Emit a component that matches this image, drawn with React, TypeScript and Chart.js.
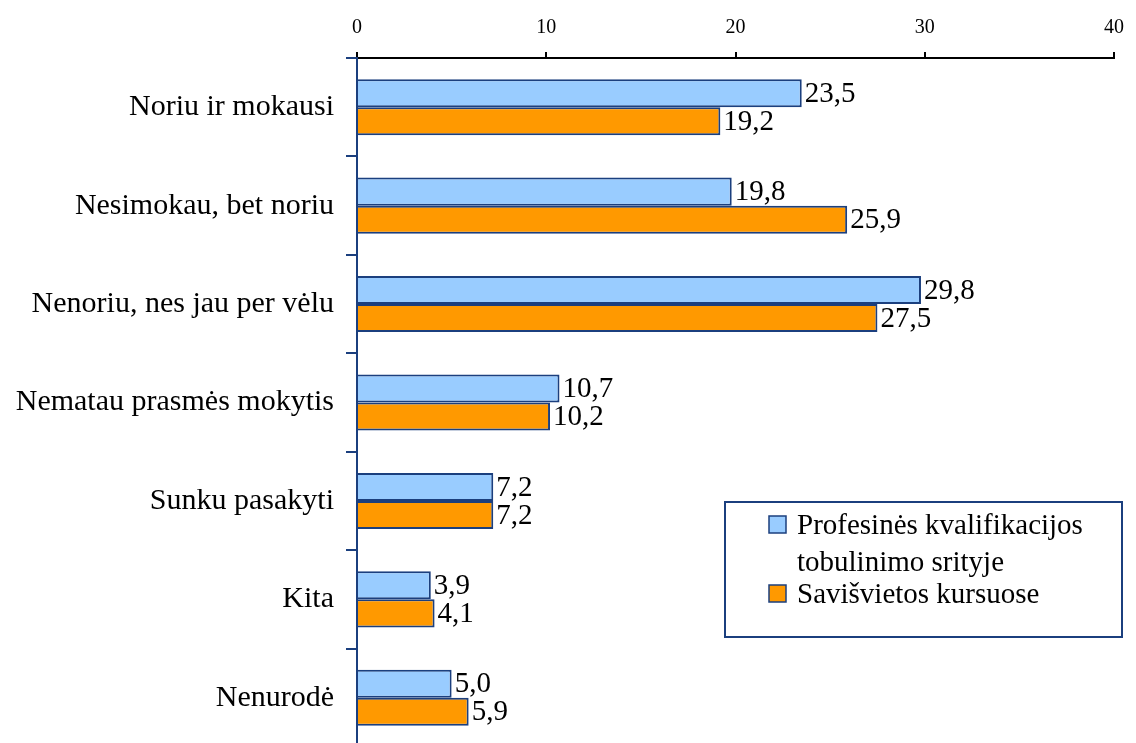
import React, { useEffect, useRef } from "react";
import { Chart, registerables } from "chart.js";

Chart.register(...registerables);

const categories = [
  "Noriu ir mokausi",
  "Nesimokau, bet noriu",
  "Nenoriu, nes jau per vėlu",
  "Nematau prasmės mokytis",
  "Sunku pasakyti",
  "Kita",
  "Nenurodė",
];
const seriesNames = ["Profesinės kvalifikacijos tobulinimo srityje", "Savišvietos kursuose"];
const legendLines = [["Profesinės kvalifikacijos", "tobulinimo srityje"], ["Savišvietos kursuose"]];
const profesines = [23.5, 19.8, 29.8, 10.7, 7.2, 3.9, 5.0];
const savisvietos = [19.2, 25.9, 27.5, 10.2, 7.2, 4.1, 5.9];
const xTicks = [0, 10, 20, 30, 40];

const NAVY = "#1B3F7E";
const BLUE = "#99CCFF";
const ORANGE = "#FF9900";
const FONT = "'Liberation Serif', 'Times New Roman', serif";

const dataLabelPlugin = {
  id: "dataLabels",
  afterDatasetsDraw(chart: any) {
    const ctx = chart.ctx;
    ctx.save();
    ctx.font = `29px ${FONT}`;
    ctx.fillStyle = "#000";
    ctx.textAlign = "left";
    ctx.textBaseline = "middle";
    chart.data.datasets.forEach((ds: any, di: number) => {
      const meta = chart.getDatasetMeta(di);
      meta.data.forEach((bar: any, i: number) => {
        const v = ds.data[i] as number;
        const txt = v.toFixed(1).replace(".", ",");
        ctx.fillText(txt, bar.x + 3, bar.y + 1);
      });
    });
    ctx.restore();
  },
};

const legendPlugin = {
  id: "boxLegend",
  afterDraw(chart: any) {
    const ctx = chart.ctx;
    ctx.save();
    ctx.lineWidth = 2;
    ctx.strokeStyle = NAVY;
    ctx.fillStyle = "#fff";
    ctx.fillRect(725, 502, 397, 135);
    ctx.strokeRect(725, 502, 397, 135);
    const colors = [BLUE, ORANGE];
    const rows = [525, 594];
    ctx.font = `29px ${FONT}`;
    ctx.textAlign = "left";
    ctx.textBaseline = "middle";
    legendLines.forEach((lines, i) => {
      const y = rows[i];
      ctx.fillStyle = colors[i];
      ctx.fillRect(769, y - 9, 17, 17);
      ctx.lineWidth = 1.5;
      ctx.strokeStyle = NAVY;
      ctx.strokeRect(769, y - 9, 17, 17);
      ctx.fillStyle = "#000";
      lines.forEach((t, j) => ctx.fillText(t, 797, y + 1 + j * 37));
    });
    ctx.restore();
  },
};

export default function App() {
  const ref = useRef<HTMLCanvasElement>(null);
  useEffect(() => {
    if (!ref.current) return;
    const chart = new Chart(ref.current, {
      type: "bar",
      data: {
        labels: categories,
        datasets: [
          {
            label: seriesNames[0],
            data: profesines,
            backgroundColor: BLUE,
            borderColor: NAVY,
            borderWidth: 2,
            borderSkipped: "start",
            categoryPercentage: 0.57,
            barPercentage: 1,
          },
          {
            label: seriesNames[1],
            data: savisvietos,
            backgroundColor: ORANGE,
            borderColor: NAVY,
            borderWidth: 2,
            borderSkipped: "start",
            categoryPercentage: 0.57,
            barPercentage: 1,
          },
        ],
      },
      options: {
        indexAxis: "y",
        animation: false,
        responsive: false,
        maintainAspectRatio: false,
        layout: { padding: { left: 0, right: 19, top: 0, bottom: 0 } },
        plugins: { legend: { display: false }, tooltip: { enabled: false } },
        scales: {
          x: {
            position: "top",
            min: 0,
            max: 40,
            afterBuildTicks: (s: any) => {
              s.ticks = xTicks.map((v) => ({ value: v }));
            },
            afterFit: (s: any) => {
              s.height = 58;
            },
            ticks: {
              color: "#000",
              font: { family: FONT, size: 20 },
              padding: 12,
              maxRotation: 0,
            },
            grid: {
              drawOnChartArea: false,
              drawTicks: true,
              tickLength: 6,
              color: "#000",
              lineWidth: 2,
            },
            border: { display: true, color: "#000", width: 2 },
          },
          y: {
            afterFit: (s: any) => {
              s.width = 357;
            },
            ticks: {
              color: "#000",
              font: { family: FONT, size: 30 },
              padding: 12,
            },
            grid: {
              offset: true,
              drawOnChartArea: false,
              drawTicks: true,
              tickLength: 11,
              color: NAVY,
              lineWidth: 2,
            },
            border: { display: true, color: NAVY, width: 2 },
          },
        },
      },
      plugins: [dataLabelPlugin, legendPlugin],
    } as any);
    return () => chart.destroy();
  }, []);
  return (
    <div style={{ position: "fixed", left: 0, top: 0, width: 1136, height: 743, overflow: "hidden", background: "#fff" }}>
      <canvas ref={ref} width={1136} height={777} style={{ display: "block", width: 1136, height: 777 }} />
    </div>
  );
}
